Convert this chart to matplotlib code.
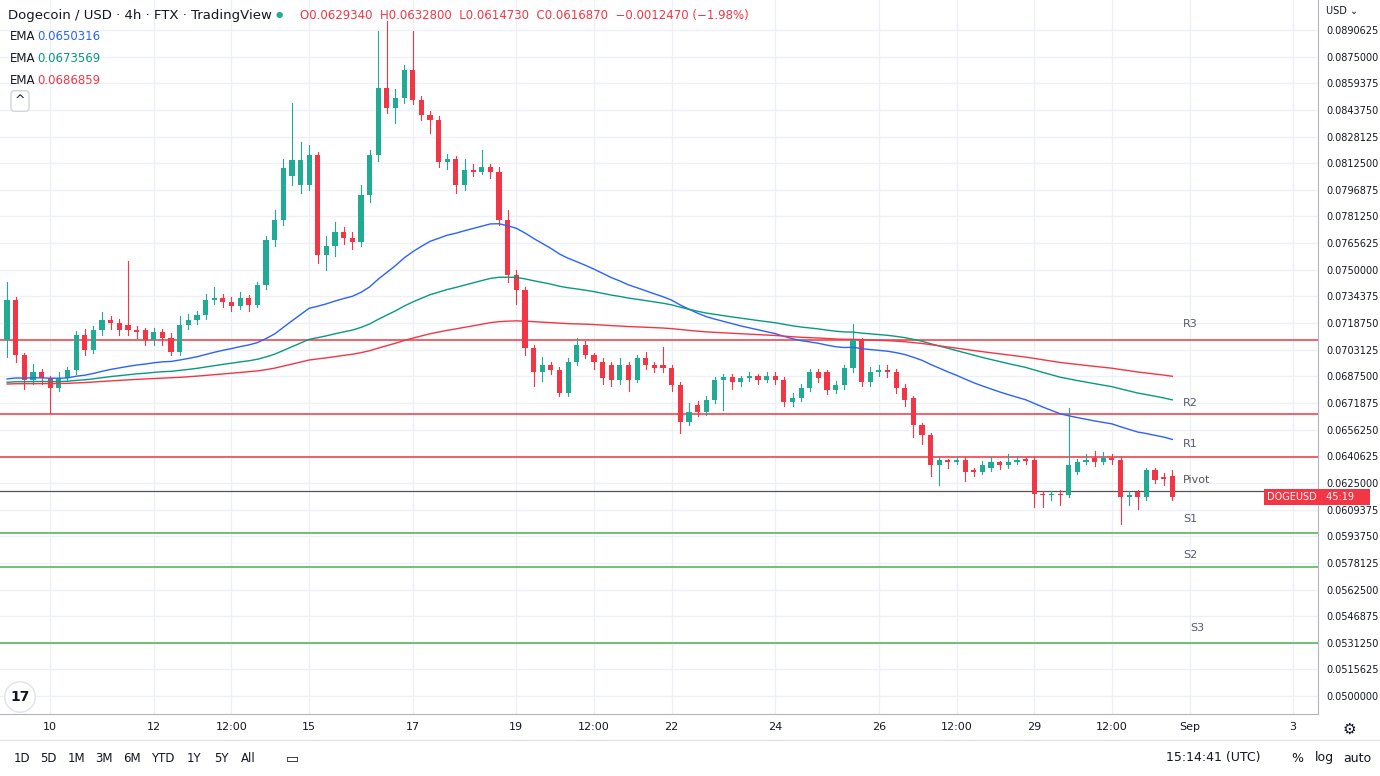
import matplotlib.pyplot as plt
import numpy as np
from matplotlib.patches import Rectangle

# 4h candles, first one Aug 9 04:00 (x in days of August)
start_day = 9 + 1 / 6
opens = [.07088, .07323, .07000, .06853, .06900, .06865, .06806, .06865, .06912, .07118,
         .07030, .07147, .07206, .07188, .07176, .07147, .07147, .07088, .07135, .07100,
         .07018, .07176, .07206, .07235, .07323, .07335, .07311, .07288, .07335, .07294,
         .07411, .07675, .07792, .08050, .07997, .07997, .08173, .07587, .07640, .07722,
         .07687, .07663, .07939, .08173, .08566, .08449, .08508, .08672, .08496, .08408,
         .08379, .08132, .08150, .07997, .08085, .08074, .08100, .08074, .07792, .07470,
         .07382, .07041, .06900, .06941, .06912, .06777, .06959, .07059, .07000, .06959,
         .06941, .06853, .06941, .06853, .06982, .06941, .06941, .06924, .06824, .06607,
         .06707, .06666, .06736, .06853, .06870, .06841, .06865, .06877, .06853, .06877,
         .06853, .06724, .06748, .06806, .06900, .06900, .06794, .06824, .06924, .07088,
         .06841, .06900, .06912, .06900, .06806, .06748, .06590, .06531, .06355, .06384,
         .06373, .06384, .06326, .06314, .06335, .06373, .06355, .06373, .06390, .06384,
         .06185, .06179, .06185, .06179, .06314, .06373, .06395, .06373, .06395, .06384,
         .06168, .06197, .06168, .06326, .06285, .06293]
closes = [.07323, .07000, .06853, .06900, .06865, .06806, .06865, .06912, .07118, .07030,
          .07147, .07206, .07188, .07147, .07147, .07135, .07088, .07135, .07100, .07018,
          .07176, .07206, .07235, .07323, .07335, .07311, .07288, .07335, .07294, .07411,
          .07675, .07792, .08097, .08144, .08144, .08173, .07587, .07640, .07722, .07687,
          .07663, .07939, .08173, .08566, .08449, .08508, .08672, .08496, .08408, .08379,
          .08132, .08150, .07997, .08085, .08074, .08100, .08074, .07792, .07470, .07382,
          .07041, .06900, .06941, .06912, .06777, .06959, .07059, .07000, .06959, .06865,
          .06853, .06941, .06853, .06982, .06941, .06924, .06924, .06824, .06607, .06666,
          .06666, .06736, .06853, .06870, .06841, .06865, .06877, .06853, .06877, .06853,
          .06724, .06748, .06806, .06900, .06865, .06794, .06824, .06924, .07088, .06841,
          .06900, .06912, .06900, .06806, .06736, .06590, .06531, .06355, .06384, .06373,
          .06384, .06314, .06314, .06355, .06373, .06355, .06373, .06384, .06380, .06185,
          .06179, .06185, .06179, .06355, .06373, .06384, .06373, .06395, .06384, .06168,
          .06179, .06168, .06326, .06267, .06275, .06169]
highs = [.07430, .07340, .07010, .06950, .06920, .06880, .06900, .06930, .07140, .07150,
         .07170, .07250, .07230, .07210, .07550, .07170, .07160, .07160, .07150, .07130,
         .07230, .07240, .07260, .07360, .07400, .07360, .07340, .07370, .07350, .07430,
         .07700, .07850, .08150, .08480, .08250, .08230, .08190, .07700, .07780, .07750,
         .07720, .08000, .08200, .08900, .08960, .08560, .08700, .08900, .08520, .08430,
         .08400, .08180, .08170, .08150, .08120, .08200, .08120, .08100, .07850, .07500,
         .07400, .07060, .06990, .06960, .06930, .06980, .07100, .07080, .07010, .06980,
         .06960, .06980, .06960, .07000, .07020, .06960, .07050, .06940, .06840, .06720,
         .06730, .06760, .06870, .06890, .06890, .06880, .06900, .06890, .06900, .06900,
         .06870, .06780, .06830, .06920, .06920, .06910, .06850, .06940, .07180, .07100,
         .06930, .06940, .06940, .06920, .06830, .06760, .06600, .06540, .06400, .06390,
         .06400, .06400, .06340, .06380, .06400, .06380, .06420, .06410, .06400, .06400,
         .06200, .06200, .06210, .06690, .06390, .06420, .06440, .06430, .06420, .06400,
         .06200, .06210, .06340, .06340, .06310, .06328]
lows = [.06990, .06960, .06800, .06830, .06830, .06660, .06790, .06850, .06890, .07000,
        .07010, .07120, .07150, .07120, .07120, .07100, .07060, .07060, .07060, .07000,
        .07000, .07150, .07180, .07210, .07300, .07280, .07260, .07270, .07260, .07280,
        .07390, .07640, .07760, .08000, .07950, .07970, .07540, .07500, .07580, .07650,
        .07620, .07640, .07900, .08140, .08420, .08360, .08480, .08470, .08380, .08300,
        .08100, .08090, .07950, .07970, .08050, .08060, .08040, .07760, .07430, .07300,
        .07000, .06820, .06850, .06890, .06760, .06760, .06940, .06980, .06920, .06830,
        .06820, .06830, .06790, .06840, .06920, .06900, .06900, .06790, .06540, .06590,
        .06640, .06650, .06720, .06680, .06800, .06820, .06850, .06830, .06840, .06830,
        .06700, .06700, .06730, .06790, .06840, .06770, .06780, .06800, .06900, .06820,
        .06820, .06880, .06870, .06780, .06700, .06520, .06480, .06290, .06240, .06340,
        .06360, .06260, .06290, .06300, .06320, .06330, .06340, .06360, .06360, .06110,
        .06110, .06150, .06120, .06170, .06300, .06360, .06350, .06360, .06360, .06010,
        .06120, .06100, .06150, .06250, .06240, .06147]

# EMA settings and their values at the first candle
ema_spans = [50, 100, 200]
ema_starts = [0.0686, 0.0684, 0.0683]
ema_colors = ['#2962ff', '#089981', '#f23645']
ema_last = ['0.0650316', '0.0673569', '0.0686859']

levels = [0.07088, 0.06654, 0.06402, 0.06203, 0.05956, 0.05757, 0.05311]
level_names = ['R3', 'R2', 'R1', 'Pivot', 'S1', 'S2', 'S3']
level_label_y = [0.07180, 0.06720, 0.06480, 0.06270, 0.06040, 0.05830, 0.05400]
level_label_x = [31.88, 31.88, 31.88, 31.88, 31.88, 31.88, 32.02]

price_ticks = [0.0500000 + 0.0015625 * k for k in range(26)]
day_ticks = [10, 12, 13.5, 15, 17, 19, 20.5, 22, 24, 26, 27.5, 29, 30.5, 32, 34]
day_labels = ['10', '12', '12:00', '15', '17', '19', '12:00', '22', '24', '26', '12:00',
              '29', '12:00', 'Sep', '3']

up_color = '#22ab94'
down_color = '#f23645'

fig = plt.figure(figsize=(13.8, 7.76), dpi=100)
plt.rcParams['font.family'] = 'DejaVu Sans'
ax = fig.add_axes([0, 62 / 776, 1318 / 1380, 714 / 776])

times = start_day + np.arange(len(closes)) / 6
w = 0.6 / 6
for t, o, c, h, l in zip(times, opens, closes, highs, lows):
    col = up_color if c >= o else down_color
    ax.plot([t, t], [l, h], color=col, lw=0.8, zorder=3)
    ax.add_patch(Rectangle((t - w / 2, min(o, c)), w, max(abs(c - o), 0.00003),
                           color=col, zorder=4, lw=0))

# EMAs from the closes
for span, s0, col in zip(ema_spans, ema_starts, ema_colors):
    a = 2 / (span + 1)
    e = [s0]
    for c in closes[1:]:
        e.append(e[-1] + a * (c - e[-1]))
    ax.plot(times, e, color=col, lw=1, zorder=5)

for lv, name, ly, lx in zip(levels, level_names, level_label_y, level_label_x):
    if name == 'Pivot':
        ax.axhline(lv, color='#555555', lw=0.9, zorder=2)
        ax.text(lx, ly, name, color='#555555', fontsize=8, va='center')
    else:
        col = '#f23645' if name.startswith('R') else '#4caf50'
        ax.axhline(lv, color=col, lw=1.3, alpha=0.85, zorder=2)
        ax.text(lx, ly, name, color='#555a6e', fontsize=8, va='center')

ax.set_xlim(9.03, 34.48)
ax.set_ylim(0.04895, 0.09082)
ax.set_yticks(price_ticks)
ax.set_yticklabels([f'{p:.7f}' for p in price_ticks])
ax.yaxis.tick_right()
ax.set_xticks(day_ticks)
ax.set_xticklabels(day_labels)
ax.tick_params(axis='both', length=0, labelsize=7, labelcolor='#131722')
ax.tick_params(axis='y', pad=6)
ax.tick_params(axis='x', pad=6, labelsize=8)
ax.grid(color='#eef0f5', lw=1)
for side in ['top', 'left']:
    ax.spines[side].set_visible(False)
ax.spines['right'].set_color('#b2b5be')
ax.spines['bottom'].set_color('#b2b5be')

# last price tag
ax.text(0.999, 0.06169, 'DOGEUSD', transform=ax.get_yaxis_transform(), ha='right', va='center',
        color='white', fontsize=7, bbox=dict(fc=down_color, ec='none', pad=2))
ax.text(1.004, 0.06169, ' 45:19    ', transform=ax.get_yaxis_transform(), ha='left', va='center',
        color='white', fontsize=7, bbox=dict(fc=down_color, ec='none', pad=2))

# header texts
fig.text(8 / 1380, 1 - 15 / 776, 'Dogecoin / USD · 4h · FTX · TradingView', fontsize=9.5,
         color='#131722', va='center')
fig.text(276 / 1380, 1 - 15 / 776, '●', fontsize=6, color='#22ab94', va='center')
fig.text(300 / 1380, 1 - 15 / 776,
         'O0.0629340  H0.0632800  L0.0614730  C0.0616870  −0.0012470 (−1.98%)',
         fontsize=8.5, color='#f23645', va='center')
for i, (col, val) in enumerate(zip(ema_colors, ema_last)):
    y = 1 - (36 + 22 * i) / 776
    fig.text(10 / 1380, y, 'EMA', fontsize=8.5, color='#131722', va='center')
    fig.text(37 / 1380, y, val, fontsize=8.5, color=col, va='center')
fig.text(20 / 1380, 1 - 101 / 776, '^', fontsize=9, color='#131722', ha='center', va='center',
         bbox=dict(fc='white', ec='#d1d4dc', boxstyle='round,pad=0.3'))
fig.text(1326 / 1380, 1 - 11 / 776, 'USD ⌄', fontsize=7, color='#131722', va='center')
fig.text(20 / 1380, 1 - 697 / 776, '17', fontsize=10, weight='bold', color='#131722',
         ha='center', va='center', bbox=dict(fc='white', ec='#e0e3eb', boxstyle='circle,pad=0.4'))
fig.text(1349 / 1380, 1 - 729 / 776, '⚙', fontsize=11, color='#131722', ha='center', va='center')

# bottom toolbar
fig.add_artist(plt.Line2D([0, 1], [1 - 740 / 776] * 2, color='#e0e3eb', lw=1))
for lab, x in zip(['1D', '5D', '1M', '3M', '6M', 'YTD', '1Y', '5Y', 'All'],
                  [22, 48, 76, 104, 132, 163, 194, 221, 248]):
    fig.text(x / 1380, 1 - 758 / 776, lab, fontsize=8.5, color='#131722', ha='center', va='center')
fig.text(292 / 1380, 1 - 758 / 776, '▭', fontsize=10, color='#131722', ha='center', va='center')
fig.text(1261 / 1380, 1 - 758 / 776, '15:14:41 (UTC)', fontsize=9, color='#131722', ha='right', va='center')
fig.text(1297 / 1380, 1 - 758 / 776, '%', fontsize=9, color='#131722', ha='center', va='center')
fig.text(1324 / 1380, 1 - 758 / 776, 'log', fontsize=9, color='#131722', ha='center', va='center')
fig.text(1357 / 1380, 1 - 758 / 776, 'auto', fontsize=9, color='#131722', ha='center', va='center')

fig.savefig('out.png', dpi=100, facecolor='white')
